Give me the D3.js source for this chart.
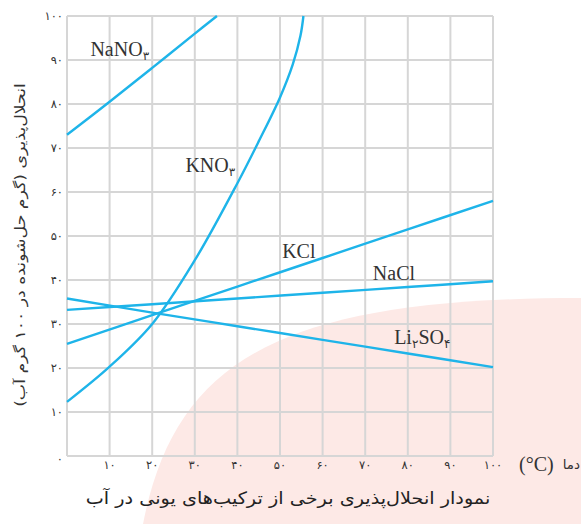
<!DOCTYPE html>
<html><head><meta charset="utf-8">
<script src="https://cdn.jsdelivr.net/npm/d3@7"></script>
<style>
html,body{margin:0;padding:0;background:#fff;}
svg{display:block;}
</style></head>
<body>
<svg id="chart" width="581" height="524"></svg>
<script>
// ---- data ----
const xTicks = [10,20,30,40,50,60,70,80,90,100];
const yTicks = [0,10,20,30,40,50,60,70,80,90,100];
const toFa = n => String(n).replace(/\d/g, d => "۰۱۲۳۴۵۶۷۸۹"[d]);

const NaNO3 = [[0,73],[10,80.5],[20,88.2],[30,96],[35.2,100]];
const KNO3  = [[0,12.3],[10,20.3],[20,30],[30,44.5],[40,62],[45,71.5],[50,81.5],[53,89],[54.8,95.5],[55.5,100]];
const KCl   = [[0,25.5],[20,32],[40,38.5],[60,45],[80,51.5],[100,58]];
const NaCl  = [[0,33.2],[20,34.5],[40,35.8],[60,37.1],[80,38.4],[100,39.7]];
const Li2SO4= [[0,35.8],[20,32.6],[40,29.5],[60,26.4],[80,23.3],[100,20.2]];

const seriesNames = ["NaNO3","KNO3","KCl","NaCl","Li2SO4"];
const seriesData  = [NaNO3, KNO3, KCl, NaCl, Li2SO4];
const labelParts = [
  [["NaNO",""],["۳","sub"]],
  [["KNO",""],["۳","sub"]],
  [["KCl",""]],
  [["NaCl",""]],
  [["Li",""],["۲","sub"],["SO",""],["۴","sub"]]
];
const labelPos = [[5.5,91],[27.8,64.5],[50.5,45],[71.8,40],[76.8,25.5]];

const yTitle = "انحلال‌پذیری (گرم حل‌شونده در ۱۰۰ گرم آب)";
const xTitle = "دما";
const xUnit = "(°C)";
const caption = "نمودار انحلال‌پذیری برخی از ترکیب‌های یونی در آب";

// ---- drawing ----
const svg = d3.select("#chart");
const x = d3.scaleLinear().domain([0,100]).range([67,493]);
const y = d3.scaleLinear().domain([0,100]).range([456,16]);

// pink background shape
svg.append("path")
  .attr("d","M143,524 C175,360 280,298 581,298 L581,524 Z")
  .attr("fill","#fde9e6");

const grid = svg.append("g").attr("stroke","#d6d6d6").attr("stroke-width",2);
grid.selectAll("line.v").data([0].concat(xTicks)).join("line")
  .attr("class","v")
  .attr("x1",d=>x(d)).attr("x2",d=>x(d))
  .attr("y1",y(100)).attr("y2",y(0));
grid.selectAll("line.h").data(yTicks).join("line")
  .attr("class","h")
  .attr("x1",x(0)).attr("x2",x(100))
  .attr("y1",d=>y(d)).attr("y2",d=>y(d));

// tick labels
const faFont = "'DejaVu Sans', 'Noto Sans', sans-serif";
svg.append("g").selectAll("text").data(xTicks).join("text")
  .attr("x",d=>x(d)).attr("y",469)
  .attr("text-anchor","middle")
  .attr("font-family",faFont).attr("font-size",11.5).attr("fill","#333")
  .text(d=>toFa(d));
svg.append("g").selectAll("text").data(yTicks).join("text")
  .attr("x",63).attr("y",d=> d===0 ? y(d)+7 : y(d)+4)
  .attr("text-anchor","end")
  .attr("font-family",faFont).attr("font-size",11.5).attr("fill","#333")
  .text(d=>toFa(d));

// curves
const line = d3.line().x(d=>x(d[0])).y(d=>y(d[1])).curve(d3.curveCatmullRom.alpha(0.5));
svg.append("g").selectAll("path").data(seriesData).join("path")
  .attr("d",line)
  .attr("fill","none").attr("stroke","#1eb4e9").attr("stroke-width",2.4);

// series labels
labelParts.forEach((parts,i)=>{
  const t = svg.append("text")
    .attr("x",x(labelPos[i][0])).attr("y",y(labelPos[i][1]))
    .attr("font-family","'Liberation Serif','Times New Roman',serif")
    .attr("font-size",20).attr("fill","#333");
  let prevSub = false;
  parts.forEach(p=>{
    const ts = t.append("tspan").text(p[0]);
    if (p[1]==="sub") { ts.attr("font-size",12).attr("dy",4).attr("font-family",faFont); prevSub = true; }
    else if (prevSub) { ts.attr("dy",-4); prevSub = false; }
  });
});

// x axis title
svg.append("text").attr("x",519).attr("y",471)
  .attr("font-family","'Liberation Serif','Times New Roman',serif")
  .attr("font-size",20).attr("fill","#333")
  .text(xUnit);
svg.append("text").attr("x",580).attr("y",469).attr("text-anchor","end")
  .attr("font-family",faFont).attr("font-size",13.5).attr("fill","#333")
  .text(xTitle);

// helper: factor to stretch a text horizontally (in its own frame) to a target length
function fitText(sel, target){
  const len = sel.node().getComputedTextLength();
  return len > 0 ? target/len : 1;
}

// y axis title (rotated)
const yg = svg.append("g");
const yt = yg.append("text")
  .attr("text-anchor","middle")
  .attr("font-family",faFont).attr("font-size",14).attr("fill","#333")
  .attr("dy","0.35em")
  .text(yTitle);
const ys = fitText(yt, 324);
yg.attr("transform",`translate(20,245) rotate(-90) scale(${ys},1)`);

// caption
const cg = svg.append("g");
const ct = cg.append("text")
  .attr("text-anchor","middle")
  .attr("font-family",faFont).attr("font-size",17).attr("fill","#222")
  .text(caption);
const cs = fitText(ct, 405);
cg.attr("transform",`translate(288,504) scale(${cs},1)`);
</script>
</body></html>
